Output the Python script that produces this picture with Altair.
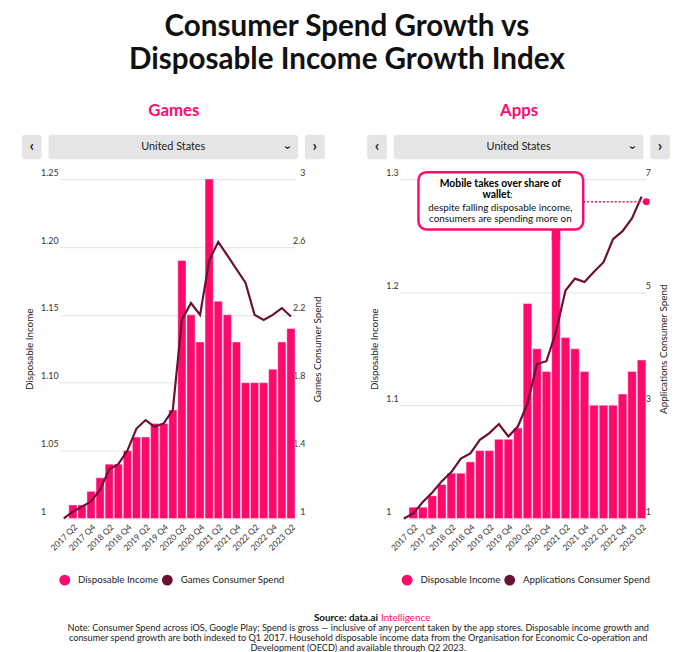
import altair as alt
import pandas as pd

# ---------------- data ----------------
quarters = ["2017 Q1", "2017 Q2", "2017 Q3", "2017 Q4", "2018 Q1", "2018 Q2", "2018 Q3", "2018 Q4",
            "2019 Q1", "2019 Q2", "2019 Q3", "2019 Q4", "2020 Q1", "2020 Q2", "2020 Q3", "2020 Q4",
            "2021 Q1", "2021 Q2", "2021 Q3", "2021 Q4", "2022 Q1", "2022 Q2", "2022 Q3", "2022 Q4",
            "2023 Q1", "2023 Q2"]
label_quarters = ["2017 Q2", "2017 Q4", "2018 Q2", "2018 Q4", "2019 Q2", "2019 Q4", "2020 Q2",
                  "2020 Q4", "2021 Q2", "2021 Q4", "2022 Q2", "2022 Q4", "2023 Q2"]
income = [1.00, 1.01, 1.01, 1.02, 1.03, 1.04, 1.04, 1.05, 1.06, 1.06, 1.07, 1.07, 1.08,
          1.19, 1.15, 1.13, 1.25, 1.16, 1.15, 1.13, 1.10, 1.10, 1.10, 1.11, 1.13, 1.14]
games_spend = [1.00, 1.04, 1.07, 1.10, 1.17, 1.29, 1.32, 1.40, 1.53, 1.58, 1.54, 1.56, 1.64,
               2.17, 2.27, 2.20, 2.52, 2.63, 2.55, 2.47, 2.39, 2.20, 2.17, 2.20, 2.24, 2.19]
apps_spend = [1.00, 1.09, 1.29, 1.46, 1.66, 1.82, 2.06, 2.15, 2.39, 2.51, 2.67, 2.45, 2.63,
              3.03, 3.73, 3.78, 4.30, 5.03, 5.24, 5.18, 5.36, 5.53, 5.94, 6.08, 6.31, 6.69]
games_income_ticks = [1.0, 1.05, 1.10, 1.15, 1.20, 1.25]
games_spend_ticks = [1.0, 1.4, 1.8, 2.2, 2.6, 3.0]
apps_income_ticks = [1.0, 1.1, 1.2, 1.3]
apps_spend_ticks = [1, 3, 5, 7]
apps_marker_value = 6.6

PINK = "#ff0a6c"
MAROON = "#6b0f33"
GRID = "#e2e2e2"
FONT = "Lato"
W, H = 270, 344

title_lines = ["Consumer Spend Growth vs", "Disposable Income Growth Index"]
note_lines = [
    "Note: Consumer Spend across iOS, Google Play; Spend is gross \u2014 inclusive of any percent taken by the app stores. Disposable income growth and",
    "consumer spend growth are both indexed to Q1 2017. Household disposable income data from the Organisation for Economic Co-operation and",
    "Development (OECD) and available through Q2 2023.",
]

one = pd.DataFrame({"k": [0]})


def txt(text, x, y, size=10, weight="normal", color="#222", align="center", angle=0,
        baseline="middle", line_height=None):
    kw = dict(text=text, fontSize=size, fontWeight=weight, color=color, align=align,
              baseline=baseline, font=FONT)
    if angle:
        kw["angle"] = angle
    if line_height:
        kw["lineHeight"] = line_height
    return alt.Chart(one).mark_text(**kw).encode(x=alt.value(x), y=alt.value(y))


def box(x0, x1, y0, y1, fill="#e5e5e5", stroke=None, sw=0, radius=3):
    kw = dict(fill=fill, cornerRadius=radius)
    if stroke:
        kw.update(stroke=stroke, strokeWidth=sw)
    return alt.Chart(one).mark_rect(**kw).encode(
        x=alt.value(x0), x2=alt.value(x1), y=alt.value(y0), y2=alt.value(y1))


def header(name):
    return [
        txt(name, W / 2, -69, size=17, weight="bold", color=PINK),
        box(-19, 1, -45, -20),
        box(8, 261, -45, -20),
        box(268, 288, -45, -20),
        txt("United States", 134.5, -32, size=11, color="#222"),
        txt("\u2039", -9, -33, size=16, weight="bold", color="#222"),
        txt("\u203a", 278, -33, size=16, weight="bold", color="#222"),
        txt("\u2039", 250, -32, size=14, weight="bold", color="#222", angle=270),
    ]


def panel(name, spend, spend_label, inc_ticks, inc_fmt, sp_ticks, sp_domain, inc_domain,
          x_range, legend_x, annotate=False):
    df = pd.DataFrame({"quarter": quarters, "income": income, "spend": spend})
    color_scale = alt.Scale(domain=["Disposable Income", spend_label], range=[PINK, MAROON])
    x_enc = alt.X("quarter:N", sort=quarters,
                  scale=alt.Scale(domain=quarters, paddingInner=0.1, paddingOuter=0, range=x_range),
                  axis=alt.Axis(values=label_quarters, labelAngle=315, ticks=False, domain=False,
                                grid=False, title=None, labelFontSize=8.5, labelColor="#333",
                                labelPadding=4, labelFont=FONT))
    bars = alt.Chart(df).transform_calculate(series="'Disposable Income'").mark_bar(
        stroke="white", strokeWidth=0.4).encode(
        x=x_enc,
        y=alt.Y("income:Q", scale=alt.Scale(domain=inc_domain, zero=False),
                axis=alt.Axis(orient="left", values=inc_ticks,
                              labelExpr=f"datum.value == 1 ? '1' : format(datum.value, '{inc_fmt}')",
                              ticks=False, domain=False, grid=True, gridColor=GRID,
                              labelAlign="left", labelBaseline="bottom", labelPadding=0,
                              labelOffset=-2, labelFontSize=9, labelColor="#333", labelFont=FONT,
                              title="Disposable Income", titleFontSize=10, titleFontWeight="normal",
                              titleColor="#222", titleFont=FONT, titleAngle=270, titleX=-11,
                              titleY=H / 2, titleBaseline="middle", titleAlign="center")),
        y2=alt.datum(inc_domain[0]),
        color=alt.Color("series:N", scale=color_scale,
                        legend=alt.Legend(orient="none", legendX=legend_x, legendY=401,
                                          direction="horizontal", title=None, symbolType="circle",
                                          symbolSize=120, symbolStrokeWidth=0, labelFontSize=9.8,
                                          labelFont=FONT, labelColor="#222", columnPadding=3,
                                          labelOffset=8, labelLimit=300)),
    )
    y_sp = alt.Y("spend:Q", scale=alt.Scale(domain=sp_domain, zero=False),
                 axis=alt.Axis(orient="right", values=sp_ticks, format=".1~f", ticks=False,
                               domain=False, grid=False, labelAlign="right", labelBaseline="bottom",
                               labelPadding=-2, labelOffset=-2, labelFontSize=9, labelColor="#333",
                               labelFont=FONT, title=spend_label, titleFontSize=10,
                               titleFontWeight="normal", titleColor="#222", titleFont=FONT,
                               titleAngle=270, titleX=11, titleY=H / 2, titleBaseline="middle",
                               titleAlign="center"))
    line = alt.Chart(df).transform_calculate(series=f"'{spend_label}'").mark_line(
        strokeWidth=2.2).encode(
        x=x_enc, y=y_sp,
        color=alt.Color("series:N", scale=color_scale, legend=None))
    spend_layers = [line]
    extra = []
    if annotate:
        dot = alt.Chart(one).mark_circle(size=50, color=PINK, opacity=1).encode(
            x=alt.value(264), y=alt.YDatum(apps_marker_value))
        rule = alt.Chart(one).mark_rule(color=PINK, strokeDash=[2, 2], strokeWidth=1.5).encode(
            x=alt.value(200), x2=alt.value(264), y=alt.YDatum(apps_marker_value))
        spend_layers += [rule, dot]
        connector = alt.Chart(df).transform_filter("datum.quarter == '2021 Q1'").mark_bar(
            color=PINK).encode(x=x_enc, y=alt.value(48), y2=alt.value(62))
        extra = [
            connector,
            box(33, 200, -7, 51, fill="white", stroke=PINK, sw=2.5, radius=8),
            txt("Mobile takes over share of", 116, 5, size=10.5, weight="bold", color="#000"),
            txt("wallet", 112, 16.5, size=10.5, weight="bold", color="#000"),
            txt(":", 127, 16.5, size=10.5, color="#111"),
            txt("despite falling disposable income,", 116, 29, size=10, color="#111"),
            txt("consumers are spending more on", 116, 40.5, size=10, color="#111"),
        ]
    spend_layer = alt.layer(*spend_layers)
    return alt.layer(bars, spend_layer, *header(name), *extra).resolve_scale(
        y="independent").properties(width=W, height=H)


games = panel("Games", games_spend, "Games Consumer Spend", games_income_ticks, ".2f",
              games_spend_ticks, [1, 3], [1, 1.25], [19.4, 257.9], 19)
apps = panel("Apps", apps_spend, "Applications Consumer Spend", apps_income_ticks, ".1f",
             apps_spend_ticks, [1, 7], [1, 1.3], [13.8, 263.5], 16, annotate=True)

top = alt.hconcat(games, apps, spacing=43).resolve_scale(color="independent")

FX = 322
footer = alt.layer(
    txt("Source: data.ai", 342, 4.5, size=10, weight="bold", color="#111", align="right"),
    txt("Intelligence", 345, 4.5, size=10, color=PINK, align="left"),
    txt(note_lines, FX, 11.5, size=9.3, color="#222", baseline="top", line_height=10),
).properties(width=640, height=36)

chart = alt.vconcat(top, footer, spacing=27).properties(
    title=alt.TitleParams(title_lines, fontSize=30, font=FONT, fontWeight="bold", color="#111",
                          anchor="middle", lineHeight=33, offset=28),
    padding={"left": 14, "top": 0, "right": 0, "bottom": 0},
    background="white",
).configure_view(strokeWidth=0, stroke="transparent")

chart.save("out.html", embed_options={"renderer": "svg", "actions": False})
